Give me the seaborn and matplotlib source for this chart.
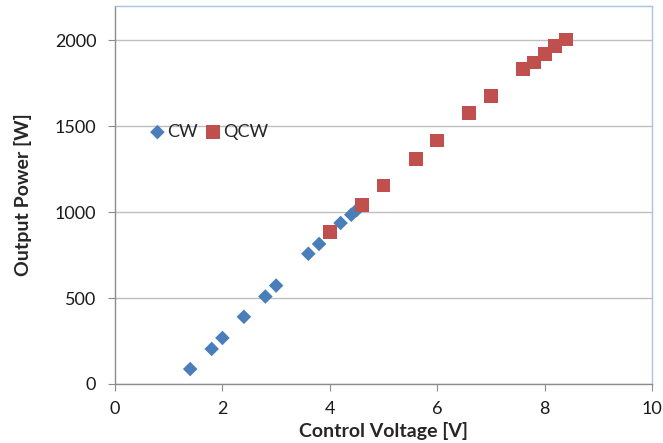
import pandas as pd
import matplotlib.pyplot as plt
import seaborn as sns

# CW 측정값
cw_voltage = [1.4, 1.8, 2.0, 2.4, 2.8, 3.0, 3.6, 3.8, 4.2, 4.4, 4.5]
cw_power = [87, 204, 268, 391, 509, 573, 758, 815, 937, 985, 1012]

# QCW 측정값
qcw_voltage = [4.0, 4.6, 5.0, 5.6, 6.0, 6.6, 7.0, 7.6, 7.8, 8.0, 8.2, 8.4]
qcw_power = [887, 1042, 1155, 1311, 1417, 1575, 1676, 1832, 1871, 1919, 1968, 2005]

x_ticks = [0, 2, 4, 6, 8, 10]
y_ticks = [0, 500, 1000, 1500, 2000]

cw_df = pd.DataFrame({'voltage': cw_voltage, 'power': cw_power})
qcw_df = pd.DataFrame({'voltage': qcw_voltage, 'power': qcw_power})

sns.set_style('white')
plt.rcParams['font.family'] = ['Lato', 'DejaVu Sans']

fig = plt.figure(figsize=(6.63, 4.43), dpi=100)
ax = fig.add_axes([0.1735, 0.1332, 0.8099, 0.8533])

sns.scatterplot(data=cw_df, x='voltage', y='power', marker='D', s=55,
                color='#4A7EBB', edgecolor='none', label='CW', ax=ax, zorder=3)
sns.scatterplot(data=qcw_df, x='voltage', y='power', marker='s', s=100,
                color='#C0504D', edgecolor='none', label='QCW', ax=ax, zorder=3)

ax.set_xlim(0, 10)
ax.set_ylim(0, 2200)
ax.set_xticks(x_ticks)
ax.set_yticks(y_ticks)
ax.grid(axis='y', color='#BEBEBE', linewidth=1)
ax.set_axisbelow(True)

for side in ['left', 'bottom']:
    ax.spines[side].set_color('#8C8C8C')
for side in ['top', 'right']:
    ax.spines[side].set_color('#A9C4E6')
for sp in ax.spines.values():
    sp.set_linewidth(1)

ax.tick_params(axis='both', direction='out', length=5, color='#8C8C8C',
               labelsize=13, labelcolor='#1A1A1A', bottom=True, left=True)
ax.tick_params(axis='x', pad=7.5)
ax.tick_params(axis='y', pad=8.5)

ax.set_xlabel('Control Voltage [V]', fontsize=14, fontweight='bold', labelpad=3)
ax.set_ylabel('Output Power [W]', fontsize=14, fontweight='bold', labelpad=16)

ax.legend(loc='center left', bbox_to_anchor=(0.052, 0.667), ncol=2, frameon=False,
          fontsize=13, handletextpad=0.15, columnspacing=0.45, handlelength=0.8,
          borderaxespad=0)

plt.savefig('out.png', dpi=100)
